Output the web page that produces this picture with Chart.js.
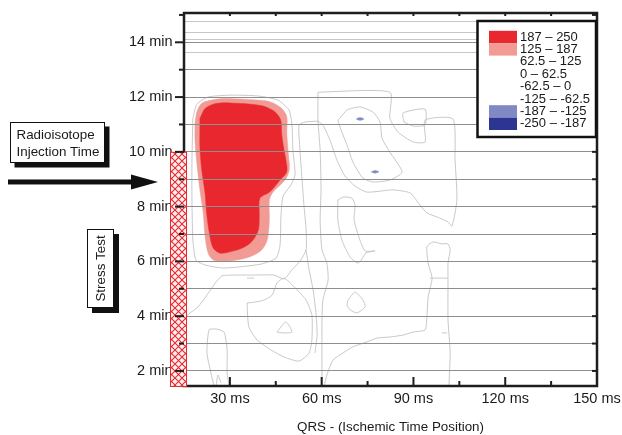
<!DOCTYPE html>
<html>
<head>
<meta charset="utf-8">
<script src="https://cdn.jsdelivr.net/npm/chart.js@4.4.0/dist/chart.umd.min.js"></script>
<style>
html, body { margin: 0; padding: 0; background: #fff; }
#wrap { width: 622px; height: 435px; }
</style>
</head>
<body>
<div id="wrap"><canvas id="qrsChart" width="622" height="435"></canvas></div>
<script>
// axes
const xRange = [15, 150];          // ms
const yRange = [1.45, 15.07];      // min
const xTickValues = [30, 60, 90, 120, 150];
const xMinorTicks = [45, 75, 105, 135];
const yTickValues = [2, 4, 6, 8, 10, 12, 14];
// sampled rows of the recording (minutes)
const rowTimes = [2, 3, 4, 5, 6, 7, 8, 9, 10, 11, 12, 13, 13.63, 14, 14.11, 14.36, 14.77];

// contour legend
const levelLabels = ['187 \u2013 250', '125 \u2013 187', '62.5 \u2013 125', '0 \u2013 62.5',
  '-62.5 \u2013 0', '-125 \u2013 -62.5', '-187 \u2013 -125', '-250 \u2013 -187'];
const levelColors = ['#e8282e', '#f29a94', null, null, null, null, '#8189c5', '#2c3591'];

// annotations (minutes)
const stressTest = [1.45, 10];
const injectionTime = 8.9;

// filled contours  [ms, min]
const level125 = [[18.6,11.04],[19.2,11.46],[20.8,11.77],[24.1,11.89],[27.8,11.95],[33.3,11.93],[38.8,11.89],
  [43.1,11.83],[46.9,11.59],[48.6,11.28],[48.6,10.68],[49.1,9.94],[49.4,9.34],[48.0,8.97],[44.2,8.54],
  [42.9,8.24],[42.9,7.51],[42.2,6.78],[40.4,6.42],[36.6,6.17],[32.2,6.05],[27.8,5.99],[24.6,6.05],
  [22.9,6.30],[21.9,6.90],[21.3,7.76],[20.2,8.61],[19.2,9.58],[18.6,10.43],[18.6,11.04]];
const level187 = [[20.2,11.22],[21.9,11.58],[24.6,11.74],[27.8,11.79],[32.2,11.77],[36.6,11.74],[40.9,11.67],
  [44.7,11.46],[46.6,11.16],[46.9,10.68],[47.5,10.19],[48.3,9.70],[48.6,9.27],[46.4,8.97],[43.1,8.54],
  [39.8,8.30],[39.6,7.76],[39.3,7.15],[37.1,6.72],[33.9,6.48],[30.0,6.35],[26.8,6.30],[24.6,6.48],
  [23.5,6.90],[22.4,7.76],[21.9,8.49],[20.8,9.34],[20.2,10.19],[20.2,10.80],[20.2,11.22]];
const negDot1 = [[71.3,11.20],[72.5,11.25],[73.8,11.20],[72.5,11.15],[71.3,11.20]];
const negDot2 = [[76.2,9.27],[77.4,9.32],[78.7,9.27],[77.4,9.22],[76.2,9.27]];

// thin contour lines [ms, min]
const contourLines = [
  [[17.9,11.23],[19.2,11.74],[22.8,12.00],[30.0,12.07],[39.2,12.04],[45.7,11.89],[49.3,11.53],[50.3,10.98],
   [50.6,10.07],[51.3,9.15],[49.7,8.75],[47.4,8.39],[46.7,7.69],[46.4,6.60],[45.1,6.12],[40.5,5.91],
   [33.3,5.80],[27.4,5.76],[21.9,5.87],[18.9,6.05],[17.9,6.78],[17.6,8.24],[17.6,9.70],[17.9,11.23]],
  [[15.0,3.93],[17.0,4.12],[19.6,4.34],[22.5,4.77],[25.5,5.25],[27.4,5.47],[31.7,5.50],[36.9,5.50],
   [44.4,5.50],[47.7,5.36],[50.3,5.69],[52.9,6.01],[54.9,6.42],[54.9,7.15],[54.2,8.06],[53.6,8.97],
   [52.9,10.07],[52.6,10.98],[54.6,11.09],[58.8,11.12]],
  [[58.8,12.18],[58.8,11.12],[59.5,10.07],[59.8,8.61],[59.5,7.51],[60.1,6.42],[61.7,5.94],[62.1,5.32],
   [60.4,4.59],[60.1,3.86],[60.1,1.45]],
  [[54.9,6.42],[55.9,5.69],[57.2,4.96],[58.2,4.04],[58.5,3.31],[57.8,2.66]],
  [[58.8,12.18],[82.3,12.18],[82.3,11.23],[85.0,10.72],[89.9,10.36],[93.8,10.36],[93.8,11.16],[102.9,11.20],
   [103.6,9.70],[104.2,8.24],[102.6,7.29],[101.3,7.44],[97.7,7.62],[94.4,7.77],[92.1,8.06],[88.9,8.50],
   [83.3,8.61],[74.8,8.53],[70.9,8.75],[67.6,9.12],[65.0,9.70],[62.7,10.43],[60.4,10.98],[58.8,11.12]],
  [[86.9,11.09],[86.6,11.42],[93.8,11.56],[93.8,10.98],[89.9,10.94],[86.9,11.09]],
  [[66.0,11.23],[68.3,11.53],[72.5,11.64],[76.8,11.45],[79.1,11.09],[79.7,10.50],[82.3,9.99],[86.3,9.26],
   [82.3,8.97],[76.8,8.90],[73.5,9.04],[70.2,9.63],[68.3,10.25],[66.6,10.72],[65.3,11.16],[66.0,11.23]],
  [[65.3,8.24],[67.0,8.35],[69.9,8.31],[70.9,8.06],[70.6,7.51],[72.5,6.78],[74.2,6.38],[77.4,6.38],
   [74.5,6.31],[72.5,5.98],[71.6,5.94],[69.3,6.16],[66.6,6.78],[65.3,7.51],[65.3,8.24]],
  [[68.6,4.59],[70.9,4.88],[73.5,4.59],[74.2,4.34],[71.6,4.12],[69.3,4.23],[68.3,4.41],[68.6,4.59]],
  [[60.8,1.45],[61.7,1.85],[63.7,2.40],[67.0,2.66],[70.2,2.88],[74.8,3.06],[78.1,3.20],[82.3,3.24],
   [86.6,3.31],[89.9,3.42],[93.8,3.50],[94.4,3.97],[94.8,4.70],[96.1,5.39],[94.8,5.94],[94.4,6.53],
   [96.4,6.71],[99.3,6.64],[101.3,6.64],[102.0,6.42],[101.3,5.94],[101.3,5.39],[101.3,3.86],[102.0,2.66],
   [101.6,1.45]],
  [[95.4,5.39],[101.3,5.39]],
  [[99.3,3.39],[101.0,3.39]],
  [[35.6,4.48],[36.2,3.61],[38.9,3.13],[43.4,2.77],[47.7,2.51],[52.6,2.36],[55.9,2.66],[56.8,3.13],
   [56.8,4.04],[54.9,4.59],[51.0,5.07],[47.7,5.39],[45.4,5.21],[43.8,4.77],[41.2,4.59],[38.5,4.52],[35.6,4.48]],
  [[45.4,3.42],[48.3,3.79],[50.3,3.42],[47.0,3.39],[45.4,3.42]],
  [[24.8,1.45],[23.8,1.93],[22.5,2.66],[23.2,3.50],[25.5,3.53],[28.1,3.42],[29.1,2.77],[29.1,1.93],[29.7,1.45]],
  [[25.5,1.45],[26.1,1.85],[27.1,1.56]],
  [[35.6,5.39],[37.9,5.39]]
];

const FONT = 'Liberation Sans, Arial, Helvetica, sans-serif';
const INK = '#1a1a1a';

function toPoints(arr) {
  return arr.map(p => ({x: p[0], y: p[1]}));
}

function filledShape(arr, color, order) {
  return {
    data: toPoints(arr), showLine: true, fill: 'shape', tension: 0.3,
    backgroundColor: color, borderColor: color, borderWidth: 0.5,
    pointRadius: 0, order: order
  };
}

const datasets = [
  filledShape(level125, levelColors[1], 5),
  filledShape(level187, levelColors[0], 4)
];
contourLines.forEach(line => {
  datasets.push({
    data: toPoints(line), showLine: true, fill: false, tension: 0.2,
    borderColor: '#c2c2c2', borderWidth: 0.9, pointRadius: 0, order: 2
  });
});
datasets.push(filledShape(negDot1, levelColors[6], 1));
datasets.push(filledShape(negDot2, levelColors[6], 1));

function hatchPattern(ctx) {
  const c = document.createElement('canvas');
  c.width = 7; c.height = 7;
  const p = c.getContext('2d');
  p.fillStyle = '#fdf0f0';
  p.fillRect(0, 0, 7, 7);
  p.strokeStyle = '#e8282e';
  p.lineWidth = 1.1;
  p.beginPath();
  p.moveTo(0, 0); p.lineTo(7, 7);
  p.moveTo(7, 0); p.lineTo(0, 7);
  p.stroke();
  return ctx.createPattern(c, 'repeat');
}

function seg(ctx, x1, y1, x2, y2) {
  ctx.beginPath(); ctx.moveTo(x1, y1); ctx.lineTo(x2, y2); ctx.stroke();
}

function shadowBox(ctx, x, y, w, h, off) {
  ctx.fillStyle = '#111';
  ctx.fillRect(x + off, y + off, w, h);
  ctx.fillStyle = '#fff';
  ctx.fillRect(x, y, w, h);
  ctx.strokeStyle = '#111';
  ctx.lineWidth = 1;
  ctx.strokeRect(x + 0.5, y + 0.5, w - 1, h - 1);
}

const overlay = {
  id: 'overlay',
  afterDraw(chart) {
    const {ctx, chartArea: a} = chart;
    const x = chart.scales.x, y = chart.scales.y;
    ctx.save();

    // frame
    ctx.strokeStyle = '#1e1e1e';
    ctx.lineWidth = 2.5;
    ctx.strokeRect(a.left, a.top, a.right - a.left, a.bottom - a.top);

    // stress test period
    const hTop = y.getPixelForValue(stressTest[1]);
    const hBot = y.getPixelForValue(stressTest[0]);
    ctx.fillStyle = hatchPattern(ctx);
    ctx.fillRect(a.left - 14, hTop, 17, hBot - hTop + 1);
    ctx.strokeStyle = '#e8282e';
    ctx.lineWidth = 1;
    ctx.strokeRect(a.left - 13.5, hTop + 0.5, 16, hBot - hTop);

    // ticks
    ctx.strokeStyle = '#1e1e1e';
    ctx.lineWidth = 2;
    xTickValues.forEach(v => {
      const px = x.getPixelForValue(v);
      seg(ctx, px, a.bottom, px, a.bottom - 9);
      seg(ctx, px, a.top, px, a.top + 3);
    });
    xMinorTicks.forEach(v => {
      const px = x.getPixelForValue(v);
      seg(ctx, px, a.bottom, px, a.bottom - 5);
      seg(ctx, px, a.top, px, a.top + 3);
    });
    for (let m = 2; m <= 15; m++) {
      const py = y.getPixelForValue(m);
      const len = yTickValues.includes(m) ? 9 : 5;
      seg(ctx, a.left - len, py, a.left, py);
      seg(ctx, a.right - 5, py, a.right, py);
    }

    // injection arrow
    const ay = y.getPixelForValue(injectionTime);
    ctx.fillStyle = '#111';
    ctx.fillRect(8, ay - 2.5, 125, 5);
    ctx.beginPath();
    ctx.moveTo(131, ay - 7.5);
    ctx.lineTo(158, ay);
    ctx.lineTo(131, ay + 7.5);
    ctx.closePath();
    ctx.fill();

    // labelled boxes
    ctx.font = '13.4px ' + FONT;
    shadowBox(ctx, 10, 122, 95, 41, 4.5);
    ctx.fillStyle = INK;
    ctx.textAlign = 'left';
    ctx.textBaseline = 'middle';
    ctx.fillText('Radioisotope', 16.5, 135.5);
    ctx.fillText('Injection Time', 16.5, 152);

    shadowBox(ctx, 87, 229, 27, 79, 5);
    ctx.save();
    ctx.translate(101, 268.5);
    ctx.rotate(-Math.PI / 2);
    ctx.fillStyle = INK;
    ctx.textAlign = 'center';
    ctx.fillText('Stress Test', 0, 0);
    ctx.restore();

    // contour legend
    const lx = 477.5, ly = 21, lw = 118.5, lh = 116;
    ctx.fillStyle = '#fff';
    ctx.fillRect(lx, ly, lw, lh);
    ctx.strokeStyle = '#111';
    ctx.lineWidth = 2.5;
    ctx.strokeRect(lx, ly, lw, lh);
    ctx.font = '13px ' + FONT;
    ctx.textAlign = 'left';
    levelLabels.forEach((lab, i) => {
      const cy = 37 + i * 12.4;
      if (levelColors[i]) {
        ctx.fillStyle = levelColors[i];
        ctx.fillRect(489, cy - 6.2, 28, 12.4);
      }
      ctx.fillStyle = INK;
      ctx.fillText(lab, 520, cy);
    });
    ctx.restore();
  }
};

new Chart(document.getElementById('qrsChart'), {
  type: 'scatter',
  data: {datasets: datasets},
  options: {
    responsive: false,
    animation: false,
    devicePixelRatio: 1,
    layout: {padding: {top: 13, right: 25, bottom: 0, left: 0}},
    plugins: {legend: {display: false}, tooltip: {enabled: false}},
    scales: {
      x: {
        type: 'linear', min: xRange[0], max: xRange[1],
        afterFit: s => { s.height = 49; s.paddingLeft = 0; s.paddingRight = 0; },
        afterBuildTicks: s => { s.ticks = xTickValues.map(v => ({value: v})); },
        grid: {display: false, drawTicks: false},
        border: {display: false},
        ticks: {
          autoSkip: false, maxRotation: 0, padding: 4, color: INK,
          font: {family: FONT, size: 14.5},
          callback: v => v + ' ms'
        },
        title: {
          display: true, text: 'QRS - (Ischemic Time Position)', color: INK,
          font: {family: FONT, size: 13.4}, padding: {top: 0, bottom: 0}
        }
      },
      y: {
        type: 'linear', min: yRange[0], max: yRange[1],
        afterFit: s => { s.width = 184; s.paddingTop = 0; s.paddingBottom = 0; },
        afterBuildTicks: s => { s.ticks = rowTimes.map(v => ({value: v})); },
        grid: {
          drawTicks: false, lineWidth: 1, z: 1,
          color: c => Number.isInteger(c.tick.value) ? '#8e8e8e' : '#c6c6c6'
        },
        border: {display: false},
        ticks: {
          autoSkip: false, padding: 11.5, color: INK,
          font: {family: FONT, size: 14.5},
          callback: v => yTickValues.includes(v) ? v + ' min' : ''
        }
      }
    }
  },
  plugins: [overlay]
});
</script>
</body>
</html>
